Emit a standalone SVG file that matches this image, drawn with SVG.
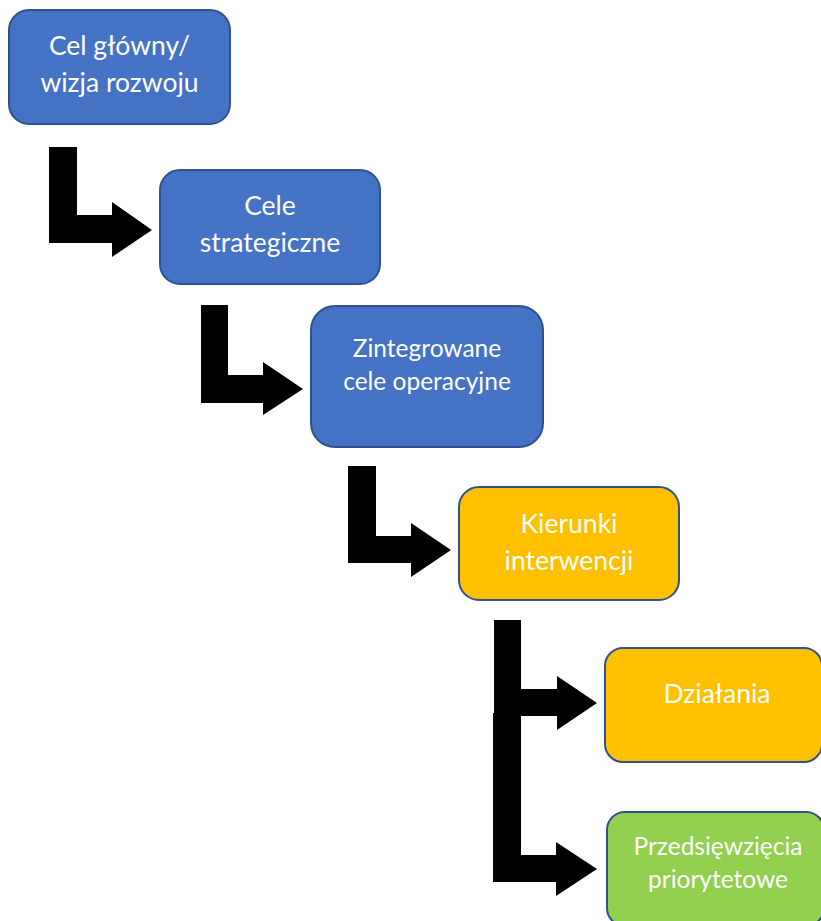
<svg xmlns="http://www.w3.org/2000/svg" width="821" height="921" viewBox="0 0 821 921">
<style>
.box{stroke:#2F528F;stroke-width:2}
.blue{fill:#4472C4}
.orange{fill:#FFC000}
.green{fill:#92D050}
.lbl{font-family:Lato,"Open Sans","Liberation Sans",sans-serif;fill:#FFFFFF;text-anchor:middle}
.big{font-size:26.5px}
.small{font-size:24.5px}
.arr{fill:#000000}
</style>
<rect width="821" height="921" fill="#FFFFFF"/>
<g id="connectors">
<path class="arr" d="M49,147 H77 V215 H112 V202 L152,230 L112,257 V243 H49 Z"/>
<path class="arr" d="M201,305 H228 V375 H263 V362 L303,389 L263,415 V403 H201 Z"/>
<path class="arr" d="M348,466 H376 V536 H411 V523 L451,550 L411,577 V563 H348 Z"/>
<path class="arr" d="M494,620 H521 V689 H557 V676 L597,703 L557,730 V716 H494 Z"/>
<path class="arr" d="M493,713 H521 V855 H556 V842 L597,869 L556,896 V882 H493 Z"/>
</g>
<g id="node-cel-glowny">
<rect class="box blue" x="9" y="10" width="221" height="114" rx="20"/>
<text class="lbl big" x="119.5" y="55">Cel główny/</text>
<text class="lbl big" x="119.5" y="92">wizja rozwoju</text>
</g>
<g id="node-cele-strategiczne">
<rect class="box blue" x="160" y="170" width="220" height="114" rx="20"/>
<text class="lbl big" x="270" y="215">Cele</text>
<text class="lbl big" x="270" y="252">strategiczne</text>
</g>
<g id="node-zintegrowane">
<rect class="box blue" x="311" y="306" width="232" height="141" rx="24"/>
<text class="lbl small" x="427" y="357">Zintegrowane</text>
<text class="lbl small" x="427" y="390">cele operacyjne</text>
</g>
<g id="node-kierunki">
<rect class="box orange" x="459" y="487" width="220" height="113" rx="20"/>
<text class="lbl big" x="569" y="533">Kierunki</text>
<text class="lbl big" x="569" y="570">interwencji</text>
</g>
<g id="node-dzialania">
<rect class="box orange" x="605" y="648" width="217" height="114" rx="18"/>
<text class="lbl big" x="717" y="703">Działania</text>
</g>
<g id="node-przedsiewziecia">
<rect class="box green" x="607" y="812" width="217" height="114" rx="18"/>
<text class="lbl small" x="718" y="855">Przedsięwzięcia</text>
<text class="lbl small" x="718" y="888">priorytetowe</text>
</g>
</svg>
